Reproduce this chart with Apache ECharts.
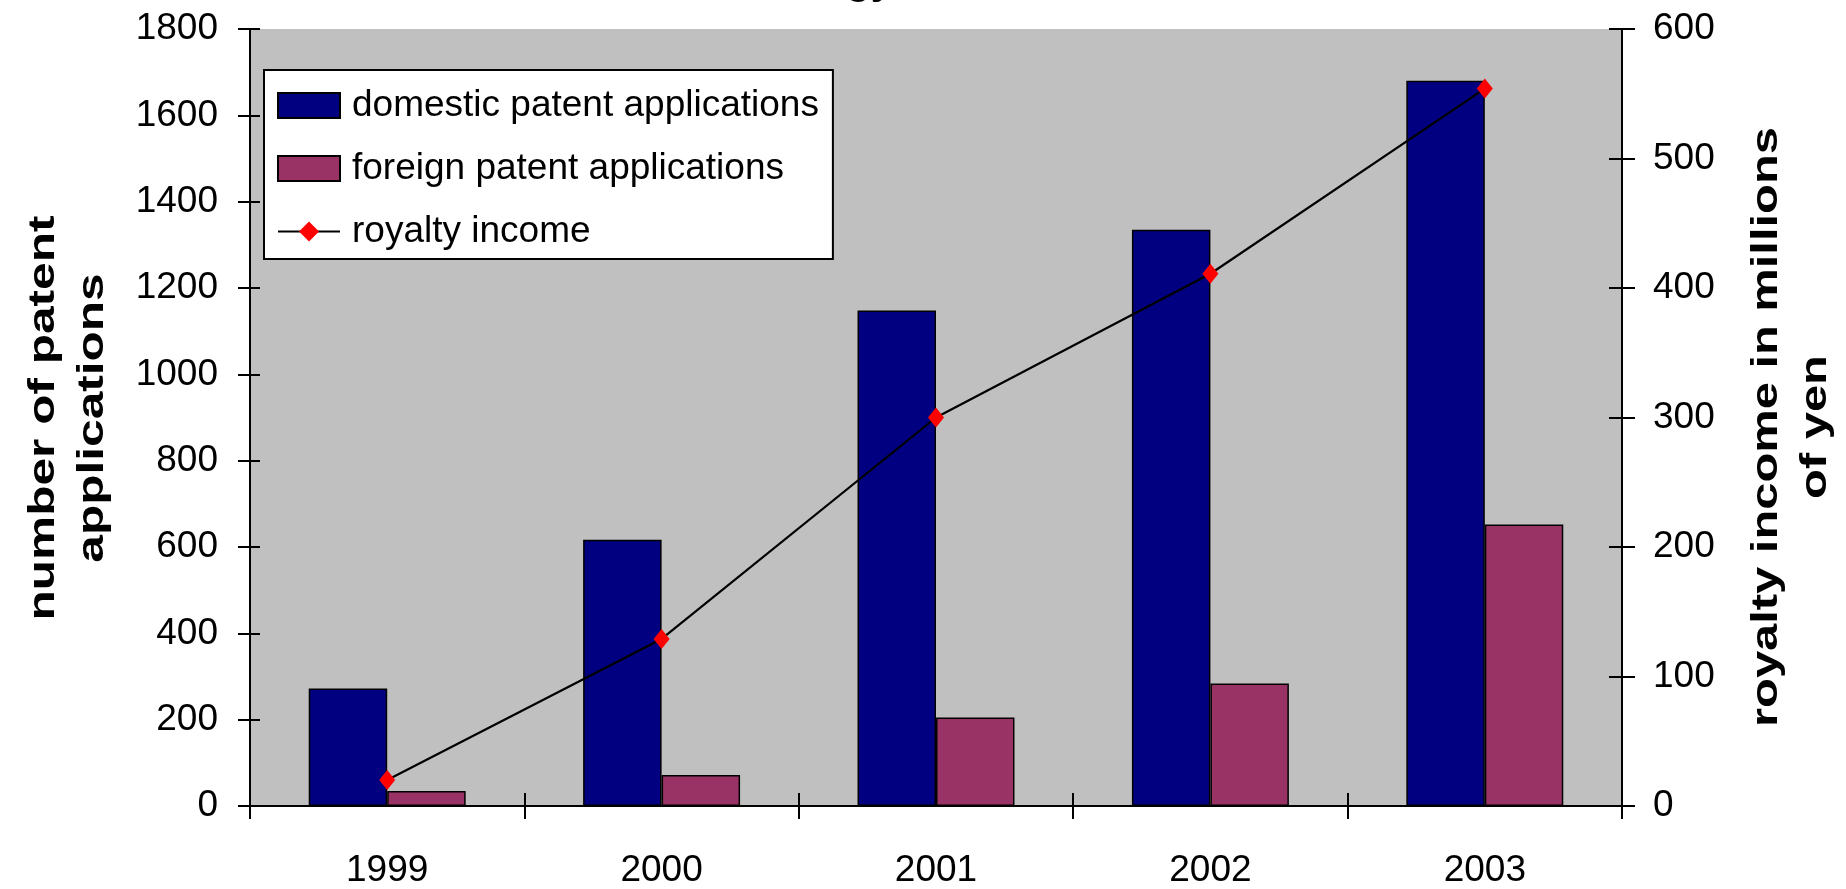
<!DOCTYPE html>
<html>
<head>
<meta charset="utf-8">
<script src="https://cdn.jsdelivr.net/npm/echarts@6/dist/echarts.min.js"></script>
<style>
html,body{margin:0;padding:0;background:#fff;}
#chart{width:1846px;height:889px;}
</style>
</head>
<body>
<div id="chart"></div>
<script>
const categories = ['1999', '2000', '2001', '2002', '2003'];
const domestic = [272, 617, 1148, 1335, 1680];
const foreign = [35, 72, 205, 284, 652];
const royalty = [20, 129, 300, 411, 554];
const seriesNames = ['domestic patent applications', 'foreign patent applications', 'royalty income'];
const leftAxis = { min: 0, max: 1800, interval: 200 };
const rightAxis = { min: 0, max: 600, interval: 100 };
const leftTitle = 'number of patent\napplications';
const rightTitle = 'royalty income in millions\nof yen';
const chartTitle = 'Technology';

const FONT = '"Liberation Sans", Arial, sans-serif';
const chart = echarts.init(document.getElementById('chart'), null, { renderer: 'canvas' });

const tickStyle = { color: '#000', width: 2 };
const plainNum = v => String(v);
const option = {
  animation: false,
  backgroundColor: '#fff',
  grid: { left: 250, right: 224, top: 29, bottom: 80, show: true, backgroundColor: '#C0C0C0', borderWidth: 0 },
  legend: {
    orient: 'vertical', left: 264, top: 70,
    itemWidth: 62, itemHeight: 25, itemGap: 26,
    padding: [17, 14, 9, 13],
    backgroundColor: '#fff', borderColor: '#000', borderWidth: 2,
    textStyle: { fontSize: 37, color: '#000', fontFamily: FONT, padding: [0, 0, 0, 7] },
    data: [
      { name: seriesNames[0], icon: 'rect' },
      { name: seriesNames[1], icon: 'rect' },
      { name: seriesNames[2] }
    ]
  },
  xAxis: [
    {
      type: 'category', data: categories, position: 'bottom',
      axisLine: { show: true, lineStyle: tickStyle },
      axisTick: { show: true, length: 13, lineStyle: tickStyle },
      axisLabel: { fontSize: 37, color: '#000', fontFamily: FONT, margin: 46 },
      splitLine: { show: false }
    },
    {
      type: 'category', data: categories, position: 'bottom',
      axisLine: { show: false },
      axisTick: { show: true, inside: true, length: 13, lineStyle: tickStyle },
      axisLabel: { show: false },
      splitLine: { show: false }
    }
  ],
  yAxis: [
    {
      type: 'value', position: 'left', min: leftAxis.min, max: leftAxis.max, interval: leftAxis.interval,
      axisLine: { show: true, lineStyle: tickStyle },
      axisTick: { show: true, length: 12, lineStyle: tickStyle },
      axisLabel: { fontSize: 37, color: '#000', fontFamily: FONT, margin: 32, formatter: plainNum },
      splitLine: { show: false }
    },
    {
      type: 'value', position: 'right', min: rightAxis.min, max: rightAxis.max, interval: rightAxis.interval,
      axisLine: { show: true, lineStyle: tickStyle },
      axisTick: { show: true, length: 13, lineStyle: tickStyle },
      axisLabel: { fontSize: 37, color: '#000', fontFamily: FONT, margin: 31, formatter: plainNum },
      splitLine: { show: false }
    },
    {
      type: 'value', position: 'left', min: leftAxis.min, max: leftAxis.max, interval: leftAxis.interval,
      axisLine: { show: false },
      axisTick: { show: true, inside: true, length: 10, lineStyle: tickStyle },
      axisLabel: { show: false }, splitLine: { show: false }
    },
    {
      type: 'value', position: 'right', min: rightAxis.min, max: rightAxis.max, interval: rightAxis.interval,
      axisLine: { show: false },
      axisTick: { show: true, inside: true, length: 13, lineStyle: tickStyle },
      axisLabel: { show: false }, splitLine: { show: false }
    }
  ],
  series: [
    {
      name: seriesNames[0], type: 'bar', xAxisIndex: 0, yAxisIndex: 0, data: domestic,
      barWidth: '28.6%', barGap: '0%',
      itemStyle: { color: '#000080', borderColor: '#000', borderWidth: 1.5 }
    },
    {
      name: seriesNames[1], type: 'bar', xAxisIndex: 0, yAxisIndex: 0, data: foreign,
      barWidth: '28.6%', barGap: '0%',
      itemStyle: { color: '#993366', borderColor: '#000', borderWidth: 1.5 }
    },
    {
      name: seriesNames[2], type: 'line', xAxisIndex: 0, yAxisIndex: 1, data: royalty,
      symbol: 'diamond', symbolSize: [16, 20], z: 5,
      itemStyle: { color: '#FF0000', borderWidth: 0 },
      lineStyle: { color: '#000', width: 2.2 }
    }
  ],
  graphic: [
    {
      type: 'text', x: 68, y: 418, rotation: Math.PI / 2, scaleX: 1.34,
      style: { text: leftTitle, font: 'bold 37px ' + FONT, fill: '#000', align: 'center', verticalAlign: 'middle', textAlign: 'center', textVerticalAlign: 'middle', lineHeight: 49 }
    },
    {
      type: 'text', x: 1791, y: 427, rotation: Math.PI / 2, scaleX: 1.32,
      style: { text: rightTitle, font: 'bold 37px ' + FONT, fill: '#000', align: 'center', verticalAlign: 'middle', textAlign: 'center', textVerticalAlign: 'middle', lineHeight: 49 }
    },
    {
      type: 'text', x: 893, y: -17,
      style: { text: chartTitle, font: 'bold 40px ' + FONT, fill: '#000', align: 'right', verticalAlign: 'middle', textAlign: 'right', textVerticalAlign: 'middle' }
    }
  ]
};
chart.setOption(option);
</script>
</body>
</html>
